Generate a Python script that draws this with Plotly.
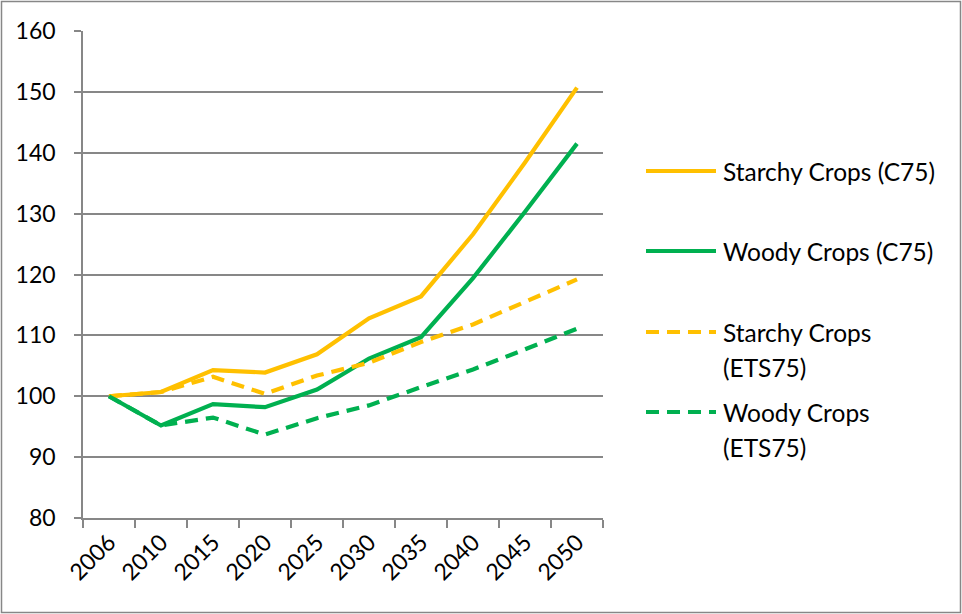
import plotly.graph_objects as go

# Category axis (years) and index values (2006 = 100)
years = ["2006", "2010", "2015", "2020", "2025", "2030", "2035", "2040", "2045", "2050"]
starchy_c75 = [100, 100.7, 104.3, 103.9, 106.9, 112.8, 116.4, 126.6, 138.4, 150.7]
woody_c75 = [100, 95.2, 98.7, 98.2, 101.1, 106.2, 109.7, 119.4, 130.3, 141.5]
starchy_ets75 = [100, 100.7, 103.2, 100.4, 103.4, 105.5, 108.9, 111.8, 115.5, 119.2]
woody_ets75 = [100, 95.2, 96.5, 93.7, 96.4, 98.5, 101.5, 104.4, 107.7, 111.1]

series_names = ["Starchy Crops (C75)", "Woody Crops (C75)",
                "Starchy Crops\n(ETS75)", "Woody Crops\n(ETS75)"]
series_values = [starchy_c75, woody_c75, starchy_ets75, woody_ets75]
series_colors = ["#FFC000", "#00B050", "#FFC000", "#00B050"]
series_dash = ["solid", "solid", "13px,8px", "13px,8px"]

y_ticks = [80, 90, 100, 110, 120, 130, 140, 150, 160]

# Page geometry
W, H = 962, 614
ML, MR, MT, MB = 83, 359, 31, 96
PW, PH = W - ML - MR, H - MT - MB
FONT = "Lato, 'Open Sans', sans-serif"
GREY = "#878787"


def px_x(x):
    return (x - ML) / PW


def px_y(y):
    return (H - MB - y) / PH


fig = go.Figure()
for name, vals, col, dash in zip(series_names, series_values, series_colors, series_dash):
    fig.add_trace(go.Scatter(
        x=years, y=vals, mode="lines", name=name.replace("\n", " "),
        line=dict(color=col, width=4.2, dash=dash),
        showlegend=False,
    ))

# Hand-built legend on the right
shapes = []
annotations = []
row_y = [171, 251, 332, 412]
for name, col, dash, ry in zip(series_names, series_colors, series_dash, row_y):
    shapes.append(dict(
        type="line", xref="paper", yref="paper",
        x0=px_x(646), x1=px_x(716), y0=px_y(ry), y1=px_y(ry),
        line=dict(color=col, width=4.2, dash=dash),
    ))
    for i, part in enumerate(name.split("\n")):
        annotations.append(dict(
            xref="paper", yref="paper", x=px_x(721), y=px_y(ry + 35 * i),
            xanchor="left", yanchor="middle", showarrow=False,
            text=part, font=dict(family=FONT, size=24.5, color="#000000"),
        ))

# Outer chart border
shapes.append(dict(
    type="rect", xref="paper", yref="paper", layer="above",
    x0=px_x(1.5), x1=px_x(960.5), y0=px_y(612.5), y1=px_y(1.5),
    line=dict(color=GREY, width=1.5),
))

fig.update_layout(
    width=W, height=H,
    margin=dict(l=ML, r=MR, t=MT, b=MB, pad=0),
    paper_bgcolor="white", plot_bgcolor="white",
    font=dict(family=FONT, size=23, color="#000000"),
    shapes=shapes, annotations=annotations,
    xaxis=dict(
        type="category", range=[-0.5, 9.5],
        tickangle=-45, tickson="boundaries",
        ticks="outside", ticklen=8, tickwidth=1.5, tickcolor=GREY,
        showline=True, linecolor=GREY, linewidth=1.5,
        showgrid=False, zeroline=False,
        tickfont=dict(family=FONT, size=23),
    ),
    yaxis=dict(
        range=[80, 160], tickvals=y_ticks,
        ticks="outside", ticklen=7, tickwidth=1.5, tickcolor=GREY,
        showline=True, linecolor=GREY, linewidth=1.5,
        showgrid=True, gridcolor=GREY, gridwidth=1.5,
        zeroline=False, ticklabelstandoff=14,
        tickfont=dict(family=FONT, size=23),
    ),
)

fig.write_html("out.html")
